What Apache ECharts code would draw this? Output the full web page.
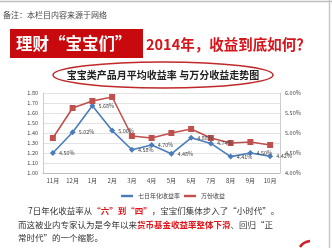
<!DOCTYPE html>
<html><head><meta charset="utf-8">
<script src="https://cdn.jsdelivr.net/npm/echarts@6/dist/echarts.min.js"></script>
<style>html,body{margin:0;padding:0;background:#fff}#c{width:332px;height:248px}</style>
</head><body><div id="c"></div>
<script>
var categories = ['11月','12月','1月','2月','3月','4月','5月','6月','7月','8月','9月','10月'];
var sevenDayYield = [4.50, 5.02, 5.68, 5.06, 4.58, 4.70, 4.48, 4.88, 4.74, 4.41, 4.50, 4.42];
var perTenThousand = [1.35, 1.65, 1.72, 1.76, 1.37, 1.35, 1.40, 1.44, 1.35, 1.30, 1.31, 1.28];
var leftTicks = {min: 1.0, max: 1.8, interval: 0.1};
var rightTicks = {min: 4.0, max: 6.0, interval: 0.5};
var seriesNames = ['七日年化收益率', '万份收益'];

var FONT = '"Noto Sans CJK SC", "Noto Sans", sans-serif';
var chart = echarts.init(document.getElementById('c'));
chart.setOption({
  animation: false,
  textStyle: {fontFamily: FONT},
  grid: {left: 43, right: 52, top: 93, bottom: 75},
  legend: {
    data: [
      {name: seriesNames[0], icon: 'path://M0,4L10,4L10,6L0,6Z'},
      {name: seriesNames[1], icon: 'path://M0,4L10,4L10,6L0,6Z'}
    ],
    left: 116, top: 188, itemWidth: 12, itemHeight: 6, itemGap: 4,
    textStyle: {fontSize: 6, color: '#444', fontFamily: FONT}
  },
  xAxis: {
    type: 'category', data: categories, boundaryGap: true,
    axisLine: {lineStyle: {color: '#bbb'}},
    axisTick: {show: false},
    axisLabel: {fontSize: 6, color: '#444', margin: 5}
  },
  yAxis: [
    {type: 'value', min: leftTicks.min, max: leftTicks.max, interval: leftTicks.interval,
     axisLine: {show: true, lineStyle: {color: '#ccc'}}, axisTick: {show: false},
     axisLabel: {fontSize: 5.5, color: '#444', margin: 5, formatter: function(v){return v.toFixed(2);}},
     splitLine: {lineStyle: {color: '#dcdcdc', width: 0.8}}},
    {type: 'value', min: rightTicks.min, max: rightTicks.max, interval: rightTicks.interval,
     axisLine: {show: true, lineStyle: {color: '#ccc'}}, axisTick: {show: false},
     axisLabel: {fontSize: 5.5, color: '#444', margin: 5, formatter: function(v){return v.toFixed(2) + '%';}},
     splitLine: {show: false}}
  ],
  series: [
    {name: seriesNames[0], type: 'line', yAxisIndex: 1, data: sevenDayYield,
     symbol: 'diamond', symbolSize: 6,
     lineStyle: {color: '#4a7cbc', width: 1.6}, itemStyle: {color: '#4a7cbc'},
     label: {show: true, position: 'right', distance: 3, fontSize: 5.5, color: '#444',
             formatter: function(p){return p.value.toFixed(2) + '%';}}},
    {name: seriesNames[1], type: 'line', yAxisIndex: 0, data: perTenThousand,
     symbol: 'rect', symbolSize: 6,
     lineStyle: {color: '#c0504d', width: 1.6}, itemStyle: {color: '#c0504d'}}
  ],
  graphic: [
    {type: 'line', shape: {x1: 0, y1: 1.5, x2: 332, y2: 1.5}, style: {stroke: '#bdbdbd', lineWidth: 1.5}},
    {type: 'line', shape: {x1: 329.5, y1: 0, x2: 329.5, y2: 248}, style: {stroke: '#c8c8c8', lineWidth: 1.5}},
    {type: 'text', left: 3, top: 11, style: {text: '备注：本栏目内容来源于网络', fontSize: 8, fill: '#444', fontFamily: FONT}},
    {type: 'rect', shape: {x: 10, y: 29, width: 133, height: 29}, style: {fill: '#c8090d'}},
    {type: 'text', x: 16, y: 44, style: {text: '理财“宝宝们”', fontSize: 16.5, fontWeight: 'bold', fill: '#fff', fontFamily: FONT, textVerticalAlign: 'middle'}},
    {type: 'text', x: 146, y: 44, style: {text: '2014年，收益到底如何？', fontSize: 14.5, fontWeight: 'bold', fill: '#d7141a', fontFamily: FONT, textVerticalAlign: 'middle'}},
    {type: 'ellipse', shape: {cx: 163, cy: 75, rx: 110, ry: 13}, style: {fill: 'none', stroke: '#c0282a', lineWidth: 1.5}},
    {type: 'text', x: 163, y: 75, style: {text: '宝宝类产品月平均收益率 与万分收益走势图', fontSize: 10, fontWeight: 'bold', fill: '#222', fontFamily: FONT, textAlign: 'center', textVerticalAlign: 'middle'}},
    {type: 'text', x: 28, y: 211, style: {
      text: '7日年化收益率从{r|“六”到“四”}，宝宝们集体步入了“小时代”。',
      fontSize: 8.5, fill: '#333', fontFamily: FONT, textVerticalAlign: 'middle',
      rich: {r: {fontSize: 8.5, fontWeight: 'bold', fill: '#e0141a', fontFamily: FONT}}}},
    {type: 'text', x: 18, y: 225, style: {
      text: '而这被业内专家认为是今年以来{r|货币基金收益率整体下滑}、回归“正',
      fontSize: 8.5, fill: '#333', fontFamily: FONT, textVerticalAlign: 'middle',
      rich: {r: {fontSize: 8.5, fontWeight: 'bold', fill: '#e0141a', fontFamily: FONT}}}},
    {type: 'text', x: 18, y: 238, style: {
      text: '常时代”的一个缩影。', fontSize: 8.5, fill: '#333', fontFamily: FONT, textVerticalAlign: 'middle'}},
    {type: 'bezierCurve', shape: {x1: 300, y1: 247, x2: 310, y2: 241, cpx1: 303, cpy1: 242}, style: {stroke: '#d0202a', lineWidth: 2.5, fill: 'none'}}
  ]
});
</script></body></html>
